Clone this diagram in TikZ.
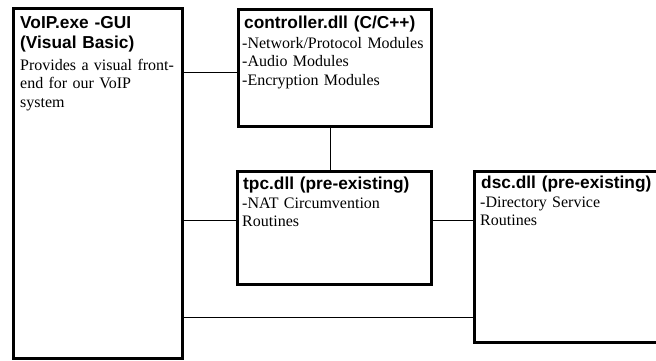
\documentclass[tikz,border=0pt]{standalone}
\usepackage{fontspec}
\setmainfont{Liberation Serif}
\newfontfamily\headfont{Liberation Sans}
\tikzset{
  x=1pt, y=-1pt,
  box/.style={draw=black, line width=3pt, fill=white, rectangle, inner sep=0pt, anchor=north west},
  link/.style={draw=black, line width=1pt},
  heading/.style={anchor=base west, inner sep=0pt, text width=220pt, align=left,
    font=\headfont\bfseries\fontsize{17.3}{20.5}\selectfont},
  body/.style={anchor=base west, inner sep=0pt, text width=220pt, align=left,
    font=\fontsize{16}{18.5}\selectfont},
}
\begin{document}
\begin{tikzpicture}
\useasboundingbox (0,0) rectangle (656,360);
\clip (0,0) rectangle (656,360);

% rows and column used by the connectors
\coordinate (rowA) at (0,72);
\coordinate (rowB) at (0,220);
\coordinate (rowC) at (0,317);
\coordinate (colA) at (330,0);

% component boxes
\node[box, minimum width=169pt, minimum height=350pt] (voip) at (11.5,6.5) {};
\node[box, minimum width=193pt, minimum height=117pt] (ctrl) at (236.5,7.5) {};
\node[box, minimum width=194pt, minimum height=113pt] (tpc)  at (235.5,169.5) {};
\node[box, minimum width=240pt, minimum height=171pt] (dsc)  at (472.5,169.5) {};

% connectors
\draw[link] (voip.east |- rowA) -- (ctrl.west |- rowA);
\draw[link] (ctrl.south -| colA) -- (tpc.north -| colA);
\draw[link] (voip.east |- rowB) -- (tpc.west |- rowB);
\draw[link] (tpc.east |- rowB) -- (dsc.west |- rowB);
\draw[link] (voip.east |- rowC) -- (dsc.west |- rowC);

% texts
\node[heading] (voipH) at (20,28) {VoIP.exe -GUI\\(Visual Basic)};
\node[body] (voipB) at (20,70) {Provides a visual front-\\end for our VoIP\\system};

\node[heading] (ctrlH) at (244,28) {controller.dll (C/C++)};
\node[body] (ctrlB) at (242,48) {-Network/Protocol Modules\\-Audio Modules\\-Encryption Modules};

\node[heading] (tpcH) at (243,189) {tpc.dll (pre-existing)};
\node[body] (tpcB) at (242,208) {-NAT Circumvention\\Routines};

\node[heading] (dscH) at (481,188) {dsc.dll (pre-existing)};
\node[body] (dscB) at (480,207) {-Directory Service\\Routines};
\end{tikzpicture}
\end{document}
